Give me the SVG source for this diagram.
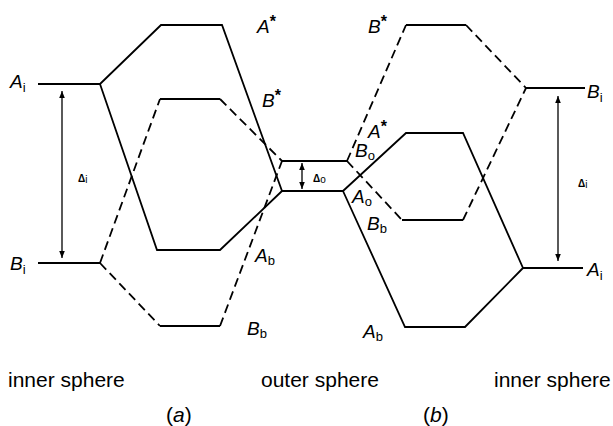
<svg xmlns="http://www.w3.org/2000/svg" width="613" height="426" viewBox="0 0 613 426">
<style>
  .s { fill: none; stroke: #000; stroke-width: 1.8; stroke-linejoin: miter; }
  .d { fill: none; stroke: #000; stroke-width: 1.8; stroke-dasharray: 9 5; }
  .ar { fill: none; stroke: #000; stroke-width: 1.3; }
  .lbl { font-family: "Liberation Sans", Arial, sans-serif; font-style: italic; font-size: 19px; fill: #000; }
  .sub { font-style: normal; font-size: 13px; }
  .ast { font-style: normal; font-weight: bold; font-size: 16px; }
  .dl { font-family: "Liberation Sans", Arial, sans-serif; font-size: 10px; font-weight: bold; fill: #000; }
  .cap { font-family: "Liberation Sans", Arial, sans-serif; font-size: 21px; fill: #000; }
</style>
<defs>
  <marker id="ah" viewBox="0 0 10 10" refX="10" refY="5" markerWidth="7" markerHeight="7" markerUnits="userSpaceOnUse" orient="auto-start-reverse">
    <path d="M0,1 L10,5 L0,9 Z" fill="#000"/>
  </marker>
</defs>

<g id="connectors">
  <!-- left (a) -->
  <path class="s" d="M100,84 L161,25 L222,25 L282,191"/>
  <path class="s" d="M100,84 L157,250 L220,250 L282,191"/>
  <path class="d" d="M100,263 L160,99"/>
  <path class="s" d="M160,99 L220,99"/>
  <path class="d" d="M220,99 L282,161"/>
  <path class="d" d="M100,263 L160,326"/>
  <path class="s" d="M160,326 L220,326"/>
  <path class="d" d="M220,326 L282,161"/>
  <!-- right (b) -->
  <path class="d" d="M347,161 L406,25"/>
  <path class="s" d="M406,25 L466,25"/>
  <path class="d" d="M466,25 L526,88"/>
  <path class="d" d="M347,161 L402,220"/>
  <path class="s" d="M402,220 L463,220"/>
  <path class="d" d="M463,220 L526,88"/>
  <path class="s" d="M343,191 L406,133 L463,133 L523,268"/>
  <path class="s" d="M343,191 L405,327 L465,327 L523,268"/>
  <!-- arrows -->
  <line class="ar" x1="62" y1="91" x2="62" y2="258" marker-start="url(#ah)" marker-end="url(#ah)"/>
  <line class="ar" x1="558" y1="96" x2="558" y2="261" marker-start="url(#ah)" marker-end="url(#ah)"/>
  <line class="ar" x1="302" y1="163" x2="302" y2="189" marker-start="url(#ah)" marker-end="url(#ah)"/>
</g>

<g id="Ai-left"><line class="s" x1="38" y1="84" x2="100" y2="84"/><text class="lbl" x="10" y="88">A<tspan class="sub" dy="4">i</tspan></text></g>
<g id="Bi-left"><line class="s" x1="38" y1="263" x2="100" y2="263"/><text class="lbl" x="10" y="270">B<tspan class="sub" dy="4">i</tspan></text></g>
<g id="outer-levels">
  <line class="s" x1="282" y1="161" x2="347" y2="161"/>
  <line class="s" x1="282" y1="191" x2="343" y2="191"/>
</g>
<g id="Bi-right"><line class="s" x1="526" y1="88" x2="585" y2="88"/><text class="lbl" x="587" y="98">B<tspan class="sub" dy="4">i</tspan></text></g>
<g id="Ai-right"><line class="s" x1="523" y1="268" x2="583" y2="268"/><text class="lbl" x="587" y="276">A<tspan class="sub" dy="4">i</tspan></text></g>

<g id="labels-a">
  <text class="lbl" x="257" y="33">A<tspan class="ast" dy="-6">*</tspan></text>
  <text class="lbl" x="262" y="107">B<tspan class="ast" dy="-6">*</tspan></text>
  <text class="lbl" x="255" y="262">A<tspan class="sub" dy="3">b</tspan></text>
  <text class="lbl" x="247" y="335">B<tspan class="sub" dy="3">b</tspan></text>
</g>
<g id="labels-b">
  <text class="lbl" x="368" y="33">B<tspan class="ast" dy="-6">*</tspan></text>
  <text class="lbl" x="368" y="138">A<tspan class="ast" dy="-6">*</tspan></text>
  <text class="lbl" x="355" y="157">B<tspan class="sub" dy="3">o</tspan></text>
  <text class="lbl" x="352" y="203">A<tspan class="sub" dy="3">o</tspan></text>
  <text class="lbl" x="367" y="230">B<tspan class="sub" dy="3">b</tspan></text>
  <text class="lbl" x="363" y="338">A<tspan class="sub" dy="3">b</tspan></text>
</g>
<g id="delta-labels">
  <text class="dl" x="78" y="182">Δ<tspan dy="1" font-weight="normal">i</tspan></text>
  <text class="dl" x="578" y="187">Δ<tspan dy="1" font-weight="normal">i</tspan></text>
  <text class="dl" x="313" y="182">Δ<tspan dy="1" font-weight="normal">o</tspan></text>
</g>
<g id="captions">
  <text class="cap" x="8" y="387">inner sphere</text>
  <text class="cap" x="261" y="387">outer sphere</text>
  <text class="cap" x="494" y="387">inner sphere</text>
  <text class="cap" x="166" y="422">(<tspan font-style="italic">a</tspan>)</text>
  <text class="cap" x="423" y="422">(<tspan font-style="italic">b</tspan>)</text>
</g>
</svg>
